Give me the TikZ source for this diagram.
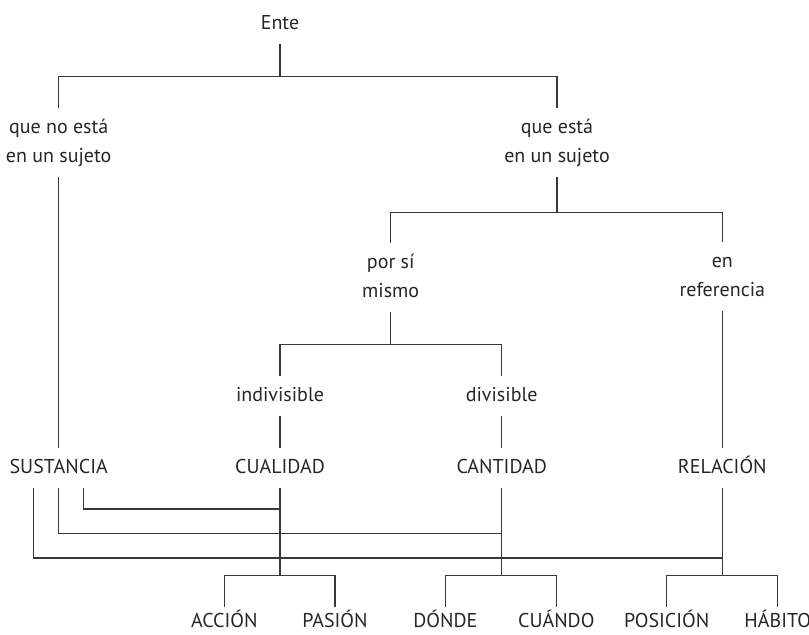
\documentclass[tikz,border=0pt]{standalone}
\usepackage{fontspec}
\setmainfont{PT Sans}
\newcommand\one[1]{\rule{0pt}{7.5pt}\smash{#1}\rule[-2pt]{0pt}{2pt}}
\newcommand\two[2]{\rule{0pt}{7.5pt}\smash{#1}\\\smash{#2}\rule[-2pt]{0pt}{2pt}}
\newcommand\leaf[1]{\rule{0pt}{10pt}\smash{#1}}
\begin{document}
\begin{tikzpicture}[x=0.5pt,y=-0.5pt,
  lbl/.style={font=\fontsize{10}{14.5}\selectfont, align=center, inner xsep=0pt, inner ysep=5pt, anchor=north, text=black!85},
  leafl/.style={lbl, inner ysep=0pt},
  conn/.style={draw=black!78, line width=0.6pt}]
\useasboundingbox (0,0) rectangle (809,634);
% labels (north anchor = first baseline - 25px)
\node[lbl] (ente) at (280,4.3) {\one{Ente}};
\node[lbl] (qno) at (58.7,108) {\two{que no está}{en un sujeto}};
\node[lbl] (qes) at (557,108) {\two{que está}{en un sujeto}};
\node[lbl] (porsi) at (390.7,243) {\two{por sí}{mismo}};
\node[lbl] (enref) at (722.3,242) {\two{en}{referencia}};
\node[lbl] (indiv) at (280,375.7) {\one{indivisible}};
\node[lbl] (div) at (501.7,375.7) {\one{divisible}};
\node[lbl] (sust) at (58.7,447.7) {\one{SUSTANCIA}};
\node[lbl] (cual) at (280,447.7) {\one{CUALIDAD}};
\node[lbl] (cant) at (501.7,447.7) {\one{CANTIDAD}};
\node[lbl] (rel) at (722.3,447.7) {\one{RELACIÓN}};
\node[leafl] (accion) at (224.3,607) {\leaf{ACCIÓN}};
\node[leafl] (pasion) at (335,607) {\leaf{PASIÓN}};
\node[leafl] (donde) at (445.3,607) {\leaf{DÓNDE}};
\node[leafl] (cuando) at (556.3,607) {\leaf{CUÁNDO}};
\node[leafl] (posicion) at (666.7,607) {\leaf{POSICIÓN}};
\node[leafl] (habito) at (777.7,607) {\leaf{HÁBITO}};
% bus levels
\coordinate (b1) at (0,76.3);
\coordinate (b2) at (0,212.3);
\coordinate (b3) at (0,344.5);
\coordinate (c1) at (0,509);
\coordinate (c2) at (0,533.7);
\coordinate (c3) at (0,558);
\coordinate (c4) at (0,575.5);
% tree connectors
\draw[conn] (ente.south) -- (ente.south |- b1);
\draw[conn] (qno.north) |- (qes.north |- b1) -- (qes.north);
\draw[conn] (qes.south) -- (qes.south |- b2);
\draw[conn] (porsi.north) |- (enref.north |- b2) -- (enref.north);
\draw[conn] (porsi.south) -- (porsi.south |- b3);
\draw[conn] (indiv.north) |- (div.north |- b3) -- (div.north);
\draw[conn] (indiv.south) -- (cual.north);
\draw[conn] (div.south) -- (cant.north);
\draw[conn] (enref.south) -- (rel.north);
\draw[conn] (qno.south) -- (sust.north);
% cross connectors from SUSTANCIA
\draw[conn] ([xshift=12.5pt]sust.south) |- (cual.south |- c1);
\draw[conn] (sust.south) |- (cant.south |- c2);
\draw[conn] ([xshift=-12.5pt]sust.south) |- (rel.south |- c3);
% downward stems and bottom branches
\draw[conn] (cual.south) -- (cual.south |- c4);
\draw[conn] (cant.south) -- (cant.south |- c4);
\draw[conn] (rel.south) -- (rel.south |- c4);
\draw[conn] (accion.north) |- (pasion.north |- c4) -- (pasion.north);
\draw[conn] (donde.north) |- (cuando.north |- c4) -- (cuando.north);
\draw[conn] (posicion.north) |- (habito.north |- c4) -- (habito.north);
\end{tikzpicture}
\end{document}
